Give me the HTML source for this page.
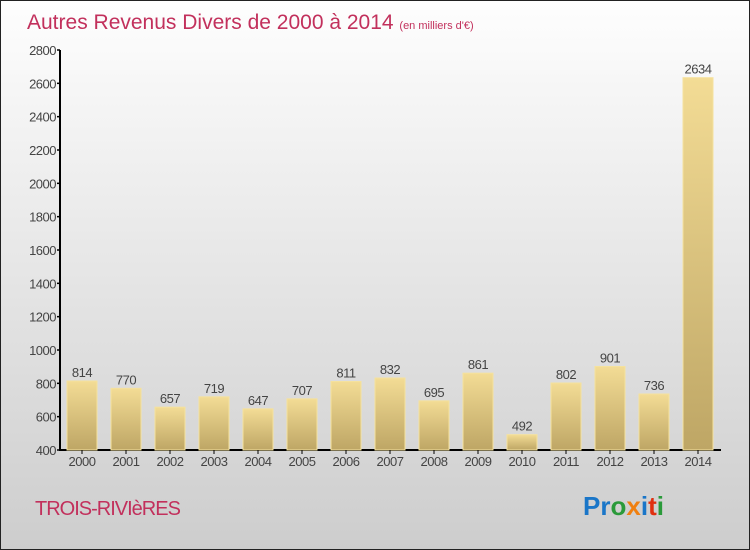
<!DOCTYPE html>
<html><head><meta charset="utf-8"><style>
body{margin:0;}
svg{display:block;font-family:"Liberation Sans",sans-serif;}
</style></head><body>
<svg width="750" height="550" viewBox="0 0 750 550">
<defs>
<linearGradient id="bg" x1="0" y1="0" x2="0" y2="1"><stop offset="0" stop-color="#fefefe"/><stop offset="1" stop-color="#cdcdcd"/></linearGradient>
<linearGradient id="bar" x1="0" y1="0" x2="0" y2="1"><stop offset="0" stop-color="#f3dc95"/><stop offset="1" stop-color="#bea665"/></linearGradient>
</defs>
<rect x="0.5" y="0.5" width="749" height="549" fill="url(#bg)" stroke="#222"/>
<text x="27" y="29" font-size="21" fill="#c2305c">Autres Revenus Divers de 2000 à 2014 <tspan font-size="11">(en milliers d'€)</tspan></text>
<g id="plot"></g>
<text x="35" y="515" font-size="20" fill="#c2305c" letter-spacing="-1">TROIS-RIVIèRES</text>
<text x="583" y="515" font-size="26" font-weight="bold"><tspan fill="#1a76c8">Pr</tspan><tspan fill="#2a9a3a">o</tspan><tspan fill="#f08010">x</tspan><tspan fill="#1a76c8">i</tspan><tspan fill="#e03010">t</tspan><tspan fill="#2a9a3a">i</tspan></text>
</svg>
<script>
const categories=["2000","2001","2002","2003","2004","2005","2006","2007","2008","2009","2010","2011","2012","2013","2014"];
const values=[814,770,657,719,647,707,811,832,695,861,492,802,901,736,2634];
const yTicks=[400,600,800,1000,1200,1400,1600,1800,2000,2200,2400,2600,2800];
const NS="http://www.w3.org/2000/svg";
const g=document.getElementById('plot');
const y=v=>450-(v-400)/6;
const x=i=>67+i*44;
function mk(t,a,txt){const e=document.createElementNS(NS,t);for(const k in a)e.setAttribute(k,a[k]);if(txt!==undefined)e.textContent=txt;g.appendChild(e);return e;}
let e=mk('line',{x1:60,y1:50,x2:60,y2:450,stroke:'#000','stroke-width':2});


e=mk('line',{x1:59,y1:450,x2:721,y2:450,stroke:'#000','stroke-width':2});


yTicks.forEach(t=>{
 e=mk('line',{x1:57,y1:y(t),x2:60,y2:y(t),stroke:'#000','stroke-width':1.5});
 
 
 e=mk('text',{x:56,y:y(t)+5,'font-size':13,'text-anchor':'end',fill:'#444','letter-spacing':'-0.5'},t);
 
 
});
values.forEach((v,i)=>{
 e=mk('rect',{x:x(i),y:y(v),width:30,height:450-y(v),fill:'url(#bar)',stroke:'#f5e29e','stroke-width':1});
 
 
 e=mk('text',{x:x(i)+15,y:y(v)-4,'font-size':13,'text-anchor':'middle',fill:'#444','letter-spacing':'-0.5'},v);
 
 
 e=mk('line',{x1:x(i)+15,y1:450,x2:x(i)+15,y2:454,stroke:'#000'});
 
 
 e=mk('text',{x:x(i)+15,y:466,'font-size':13,'text-anchor':'middle',fill:'#444','letter-spacing':'-0.5'},categories[i]);
 
 
});
</script>
</body></html>
